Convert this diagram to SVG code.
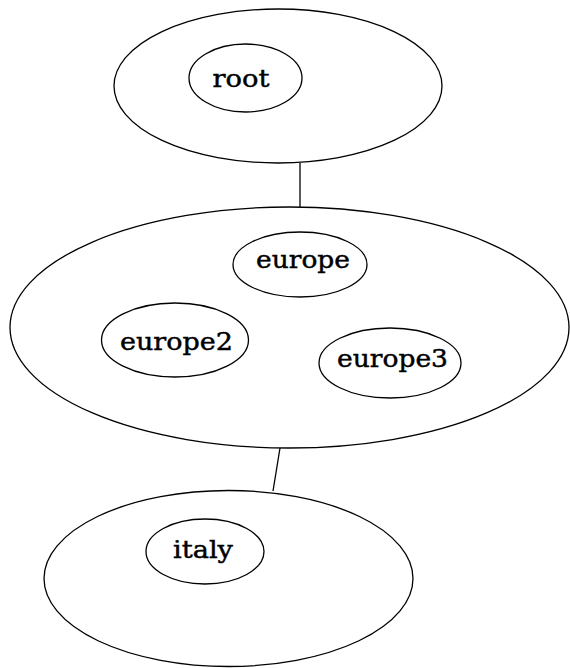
<svg xmlns="http://www.w3.org/2000/svg" width="570" height="668" viewBox="0 0 570 668">
  <style>
    .cluster { fill: none; stroke: #000; stroke-width: 1.3; }
    .node ellipse { fill: none; stroke: #000; stroke-width: 1.3; }
    .node text { font-family: "DejaVu Serif", "Liberation Serif", serif; font-size: 25px; fill: #000; stroke: #000; stroke-width: 0.45; text-anchor: middle; }
    .edge { stroke: #000; stroke-width: 1.3; fill: none; }
  </style>
  <rect width="570" height="668" fill="#fff"/>

  <!-- cluster outlines -->
  <g id="cluster_root"><ellipse class="cluster" cx="278" cy="86" rx="164" ry="77"/></g>
  <g id="cluster_europe"><ellipse class="cluster" cx="289.5" cy="327.5" rx="279.5" ry="120.5"/></g>
  <g id="cluster_italy"><ellipse class="cluster" cx="228.5" cy="578.5" rx="184.5" ry="88"/></g>

  <!-- connectors -->
  <g id="edges">
    <line class="edge" x1="300" y1="163" x2="300" y2="207"/>
    <line class="edge" x1="280" y1="448" x2="273" y2="491"/>
  </g>

  <!-- nodes -->
  <g id="root" class="node">
    <ellipse cx="245.5" cy="78" rx="56.5" ry="34"/>
    <text x="241" y="87" textLength="57" lengthAdjust="spacingAndGlyphs">root</text>
  </g>
  <g id="europe" class="node">
    <ellipse cx="300" cy="264.5" rx="67" ry="32.5"/>
    <text x="303" y="268" textLength="94" lengthAdjust="spacingAndGlyphs">europe</text>
  </g>
  <g id="europe2" class="node">
    <ellipse cx="175" cy="340" rx="73.5" ry="37"/>
    <text x="176.5" y="350" textLength="113" lengthAdjust="spacingAndGlyphs">europe2</text>
  </g>
  <g id="europe3" class="node">
    <ellipse cx="390" cy="363" rx="71" ry="35"/>
    <text x="392.5" y="367" textLength="111" lengthAdjust="spacingAndGlyphs">europe3</text>
  </g>
  <g id="italy" class="node">
    <ellipse cx="205" cy="551.5" rx="59" ry="32.5"/>
    <text x="203" y="558" textLength="60" lengthAdjust="spacingAndGlyphs">italy</text>
  </g>
</svg>
